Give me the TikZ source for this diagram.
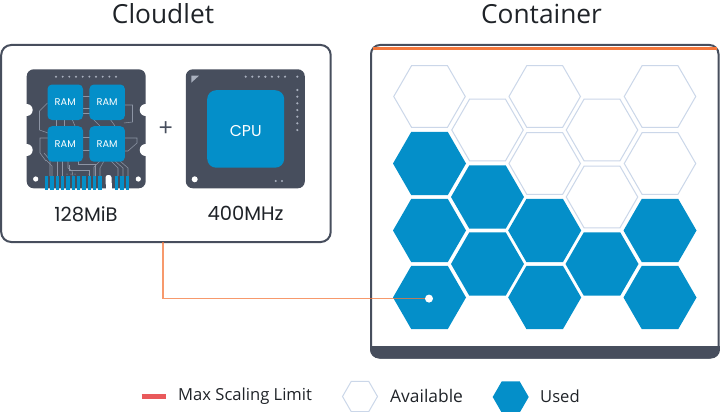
\documentclass[tikz,border=0pt]{standalone}
\usepackage{fontspec}
\setmainfont{Open Sans}
\newfontfamily\geofont{Poppins}
\usetikzlibrary{shapes.geometric}
\definecolor{slatec}{HTML}{474E5D}
\definecolor{bluec}{HTML}{048FC9}
\definecolor{hexline}{HTML}{CBD7E9}
\definecolor{orangec}{HTML}{F4773B}
\definecolor{redc}{HTML}{E9595B}
\definecolor{tracec}{HTML}{8D95A5}
\definecolor{dotc}{HTML}{A9B0BE}
\definecolor{inkc}{HTML}{1F2328}
\tikzset{
  hexbase/.style={regular polygon,regular polygon sides=6,inner sep=0pt,outer sep=0pt,minimum size=73pt},
  usedhex/.style={hexbase,fill=bluec},
  freehex/.style={hexbase,draw=hexline,line width=1pt,fill=white,minimum size=71.5pt},
  panel/.style={draw=slatec,line width=2pt,rounded corners=10pt,fill=white,inner sep=0pt,outer sep=0pt,anchor=north west},
  chip/.style={fill=slatec,rounded corners=7pt,inner sep=0pt,outer sep=0pt,anchor=north west,minimum width=119pt,minimum height=119pt},
  ramcell/.style={fill=bluec,rounded corners=4.5pt,inner sep=0pt,anchor=north west,minimum width=35.5pt,minimum height=35.5pt,text=white,font=\geofont\fontsize{9.8}{10}\selectfont},
  trace/.style={draw=tracec,line width=.55pt},
  pin/.style={fill=bluec},
  title/.style={font=\fontsize{26.3}{28}\selectfont,text=inkc,inner sep=0pt},
  geolabel/.style={font=\geofont\fontsize{19.5}{21}\selectfont,text=inkc,inner sep=0pt},
  legend/.style={font=\fontsize{16.6}{18}\selectfont,text=inkc,inner sep=0pt,anchor=west},
  link/.style={draw=orangec,line width=1.3pt,opacity=.75},
}
\begin{document}
\begin{tikzpicture}[x=1pt,y=-1pt]
\useasboundingbox (0,0) rectangle (720,412);
\node[title] (tcloud) at (163,14) {Cloudlet};
\node[title] (tcont) at (541.5,14) {Container};
% cloudlet panel
\node[panel,minimum width=329.5pt,minimum height=197pt] (cloudlet) at (1.2,45) {};
% RAM chip
\node[chip] (ramchip) at (26.7,69.3) {};
\foreach \y in {110,150}{
  \fill[white] (26.7,\y) circle (6pt);
  \fill[white] (145.7,\y) circle (6pt);
}
\fill[white,rounded corners=2.5pt] (105.5,175) rectangle (111.5,186);
\fill[white] (105.5,183) rectangle (111.5,189);
\foreach \i in {0,...,9}{\fill[dotc] ({56+6.67*\i},76.7) circle (1.1pt);}
\fill[white] (35.7,179) circle (2.6pt);
\fill[white] (138.3,179) circle (2.6pt);
% traces
\draw[trace] (47.5,103) -- (39.5,111) -- (39.5,130) -- (48,133);
\draw[trace] (82,96) -- (90,96) (82,108) -- (90,108) (82,113) -- (90,113);
\draw[trace] (124,105) -- (132.5,105) -- (132.5,122) -- (124,123);
\draw[trace] (93,119) -- (100,126) (110,119) -- (115,126) (72,119) -- (75,126);
\draw[trace] (56,119) -- (56,126) (64,119) -- (64,126);
\draw[trace] (124,138) -- (137,138) -- (137,143) -- (128,151) -- (124,151);
\draw[trace] (82,137) -- (90,137) (82,150) -- (90,150);
\draw[trace] (48,138) -- (40,138) -- (40,153) -- (46,161);
\draw[trace] (44,153) -- (50,160) -- (50,176);
\draw[trace] (46,160) -- (52,166) -- (52,176);
\draw[trace] (57,161) -- (57,176) (62,161) -- (62,176);
\draw[trace] (68,161) -- (68,168) -- (72,171) -- (73,176);
\draw[trace] (78,161) -- (78,164) -- (95,164) -- (95,176);
\draw[trace] (69,165) -- (69,170) -- (89,170) -- (89,176);
\draw[trace] (100,161) -- (94,167) -- (94,176);
\draw[trace] (104,161) -- (100,168) -- (100,176);
\draw[trace] (111,161) -- (118,168) -- (118,176);
\draw[trace] (115,161) -- (123,168) -- (123,176);
\draw[trace] (120,161) -- (128,168) -- (128,176);
\foreach \x/\y in {67/174,71/174,75/174,89/174}{\fill[dotc] (\x,\y) circle (.5pt);}
% RAM cells
\node[ramcell] (ram1) at (47.3,84.3) {RAM};
\node[ramcell] (ram2) at (89.2,84.3) {RAM};
\node[ramcell] (ram3) at (47.3,126) {RAM};
\node[ramcell] (ram4) at (89.2,126) {RAM};
% pins
\foreach \x in {46.7,52,57.3,62.7,68,73.3,78.7,84,89.3,94.7,100,116.7,122,127.3}{
  \fill[pin] (\x-1.7,176) rectangle (\x+1.7,190);
}
\node[font=\fontsize{25}{26}\selectfont,text=slatec,inner sep=0pt] (plus) at (165.7,129) {+};
% CPU chip
\node[chip] (cpuchip) at (185.8,69.3) {};
\node[fill=bluec,rounded corners=9pt,inner sep=0pt,anchor=north west,minimum width=77pt,minimum height=77.5pt,text=white,text height=14.9pt,text depth=0pt,font=\geofont\fontsize{15.7}{17}\selectfont] (cpu) at (207,90) {CPU};
\fill[dotc] (191.3,75.7) -- (199,75.7) -- (191.3,82.7) -- cycle;
\fill[white] (194.7,179.3) circle (3pt);
\foreach \i in {0,...,6}{\fill[dotc] ({245.7+6.55*\i},76.7) circle (1.2pt);}
\fill[dotc] (297.3,76.7) circle (1.2pt);
\foreach \i in {0,...,6}{\fill[dotc] (297.3,{90+6.67*\i}) circle (1.2pt);}
\fill[dotc] (275.7,181) circle (1.2pt);
\fill[dotc] (282,181) circle (1.2pt);
\node[geolabel] (mem) at (86,214.5) {128MiB};
\node[geolabel] (freq) at (245.5,213.5) {400MHz};
% container
\node[panel,rounded corners=9pt,minimum width=347.5pt,minimum height=312.5pt] (container) at (371,45) {};
\begin{scope}
  \clip[rounded corners=9pt] (370,44) rectangle (720,358.5);
  \fill[slatec] (370,345.5) rectangle (720,358.5);
  \fill[orangec] (373,47.2) rectangle (717,49.6);
\end{scope}
% hexes: available
\node[freehex] (a1) at (429.5,96.5) {};
\node[freehex] (a2) at (487.5,130) {};
\node[freehex] (a3) at (544.7,96.5) {};
\node[freehex] (a4) at (544.7,163.5) {};
\node[freehex] (a5) at (602,130) {};
\node[freehex] (a6) at (602,197) {};
\node[freehex] (a7) at (660,96.5) {};
\node[freehex] (a8) at (660,163.5) {};
% hexes: used
\node[usedhex] (u1) at (429.5,163.5) {};
\node[usedhex] (u2) at (429.5,230.5) {};
\node[usedhex] (u3) at (429.5,297.5) {};
\node[usedhex] (u4) at (487.5,197) {};
\node[usedhex] (u5) at (487.5,264) {};
\node[usedhex] (u6) at (544.7,230.5) {};
\node[usedhex] (u7) at (544.7,297.5) {};
\node[usedhex] (u8) at (602,264) {};
\node[usedhex] (u9) at (660,230.5) {};
\node[usedhex] (u10) at (660,297.5) {};
% connector
\coordinate (bend) at (163,298.6);
\node[circle,fill=white,inner sep=0pt,minimum size=8pt] (dot) at (429,298.6) {};
\draw[link] (cloudlet.south -| bend) -- (bend) -- (dot.west);
% legend
\coordinate (l1) at (141.7,396.7);
\coordinate (l2) at (165.7,396.7);
\draw[draw=redc,line width=4.5pt] (l1) -- (l2);
\node[legend] (tmax) at (178,396) {Max Scaling Limit};
\node[freehex,minimum size=35pt] (lfree) at (360,396.5) {};
\node[legend,font=\fontsize{17.4}{18}\selectfont] (tavail) at (390,396) {Available};
\node[usedhex,minimum size=36pt] (lused) at (510.7,397) {};
\node[legend] (tused) at (540,396) {Used};
\end{tikzpicture}
\end{document}
